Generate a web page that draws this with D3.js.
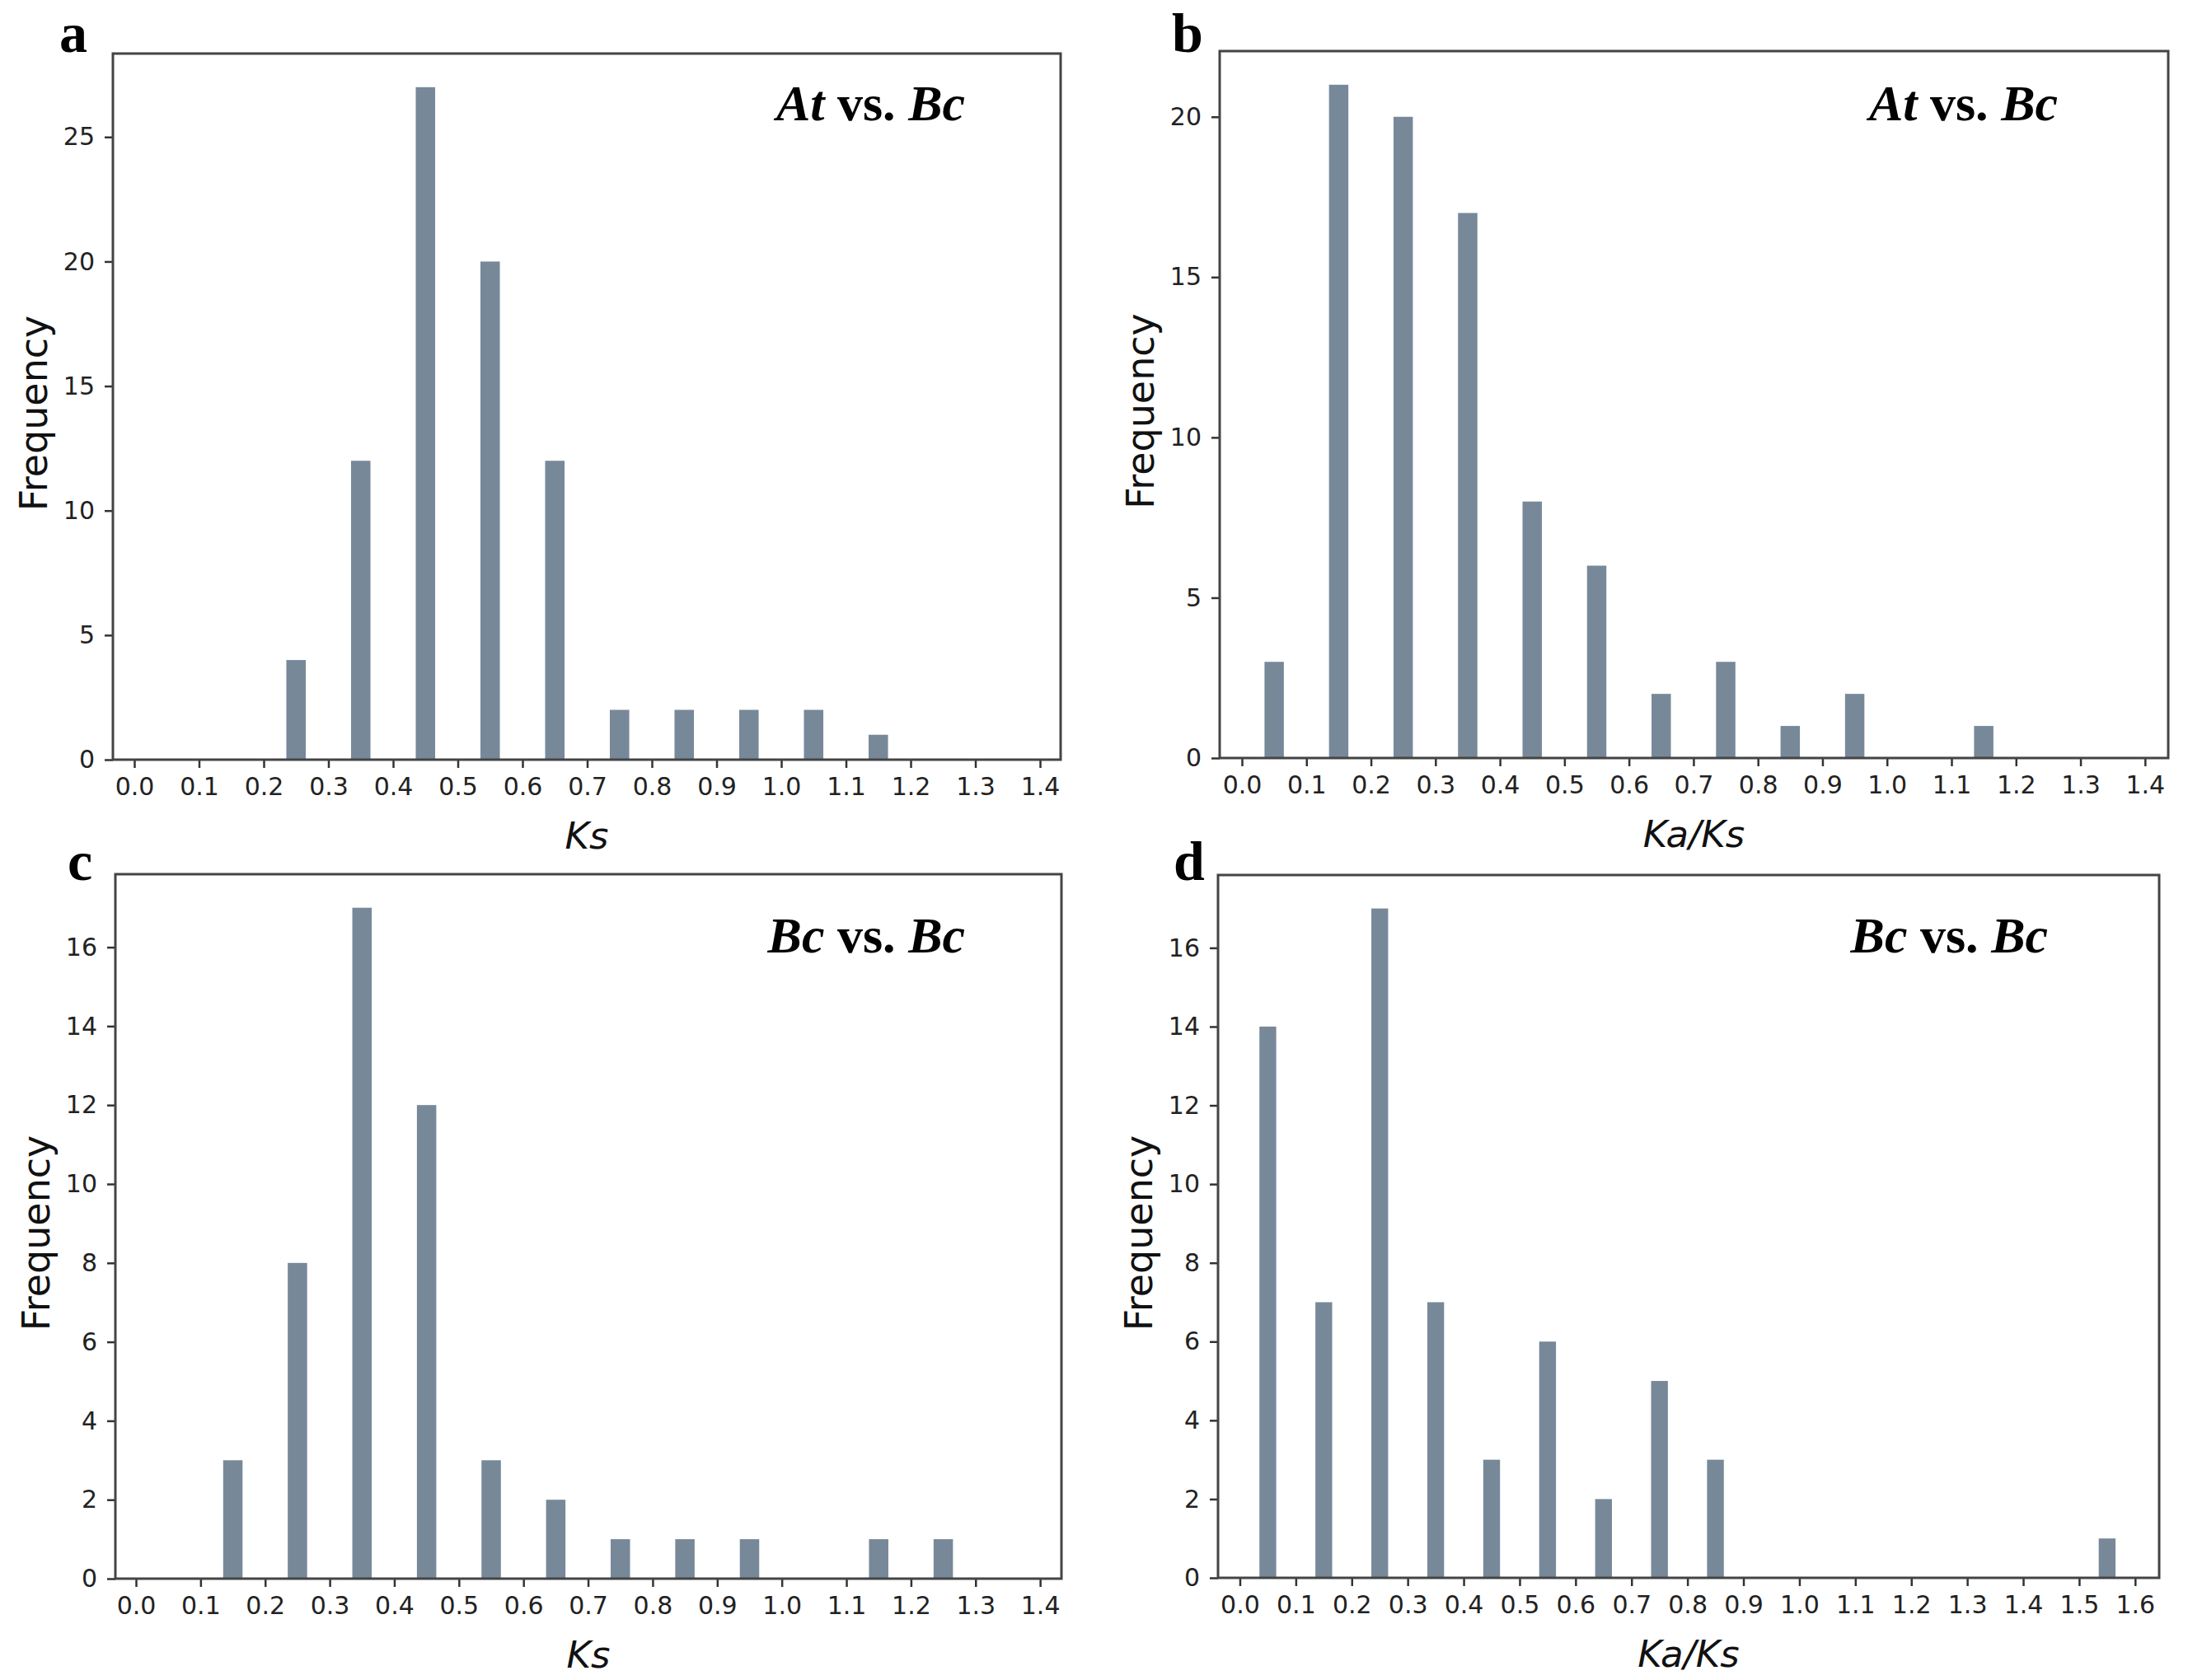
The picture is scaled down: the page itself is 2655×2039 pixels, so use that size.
<!DOCTYPE html>
<html>
<head>
<meta charset="utf-8">
<script src="https://cdn.jsdelivr.net/npm/d3@7"></script>
<style>
  html, body { margin: 0; padding: 0; background: #fff; }
  svg { display: block; }
</style>
</head>
<body>
<div id="chart"></div>
<script>
// bin centres (width 0.1) and counts
const binsA = [0.25, 0.35, 0.45, 0.55, 0.65, 0.75, 0.85, 0.95, 1.05, 1.15];
const countsA = [4, 12, 27, 20, 12, 2, 2, 2, 2, 1];

const binsB = [0.05, 0.15, 0.25, 0.35, 0.45, 0.55, 0.65, 0.75, 0.85, 0.95, 1.15];
const countsB = [3, 21, 20, 17, 8, 6, 2, 3, 1, 2, 1];

const binsC = [0.15, 0.25, 0.35, 0.45, 0.55, 0.65, 0.75, 0.85, 0.95, 1.15, 1.25];
const countsC = [3, 8, 17, 12, 3, 2, 1, 1, 1, 1, 1];

const binsD = [0.05, 0.15, 0.25, 0.35, 0.45, 0.55, 0.65, 0.75, 0.85, 1.55];
const countsD = [14, 7, 17, 7, 3, 6, 2, 5, 3, 1];

const xTicks14 = d3.range(0, 15).map(i => i / 10);
const xTicks16 = d3.range(0, 17).map(i => i / 10);
const yTicksA = [0, 5, 10, 15, 20, 25];
const yTicksB = [0, 5, 10, 15, 20];
const yTicksCD = [0, 2, 4, 6, 8, 10, 12, 14, 16];

const W = 2655, H = 2039;
const barColor = '#778899';
const barWidth = 0.03;

const svg = d3.select('#chart').append('svg')
    .attr('width', W)
    .attr('height', H);

const panels = [
    { letter: 'a', bins: binsA, counts: countsA, xTicks: xTicks14, yTicks: yTicksA,
      box: [137, 1287, 65, 922], xDom: [-0.0331, 1.4318], yMax: 28.35,
      xLabel: 'Ks', title: ['At', 'Bc'], titleX: 1171, titleY: 146, letterXY: [72, 63] },
    { letter: 'b', bins: binsB, counts: countsB, xTicks: xTicks14, yTicks: yTicksB,
      box: [1480, 2631, 62, 920], xDom: [-0.0345, 1.436], yMax: 22.05,
      xLabel: 'Ka/Ks', title: ['At', 'Bc'], titleX: 2497, titleY: 146, letterXY: [1422, 63] },
    { letter: 'c', bins: binsC, counts: countsC, xTicks: xTicks14, yTicks: yTicksCD,
      box: [140, 1288, 1061, 1916], xDom: [-0.0319, 1.433], yMax: 17.85,
      xLabel: 'Ks', title: ['Bc', 'Bc'], titleX: 1171, titleY: 1156, letterXY: [82, 1068] },
    { letter: 'd', bins: binsD, counts: countsD, xTicks: xTicks16, yTicks: yTicksCD,
      box: [1478, 2620, 1062, 1915], xDom: [-0.039, 1.643], yMax: 17.85,
      xLabel: 'Ka/Ks', title: ['Bc', 'Bc'], titleX: 2485, titleY: 1156, letterXY: [1424, 1068] }
];

panels.forEach(p => {
    const [l, r, t, b] = p.box;
    const x = d3.scaleLinear().domain(p.xDom).range([l, r]);
    const y = d3.scaleLinear().domain([0, p.yMax]).range([b, t]);
    const g = svg.append('g');

    // Bars
    g.append('g')
        .selectAll('rect')
        .data(p.bins.map((c, i) => ({ c, n: p.counts[i] })))
        .enter().append('rect')
        .attr('x', d => x(d.c - barWidth / 2))
        .attr('width', d => x(d.c + barWidth / 2) - x(d.c - barWidth / 2))
        .attr('y', d => y(d.n))
        .attr('height', d => y(0) - y(d.n))
        .attr('fill', barColor);

    // Axes
    const xAxis = d3.axisBottom(x)
        .tickValues(p.xTicks)
        .tickFormat(d3.format('.1f'))
        .tickSize(10)
        .tickPadding(12);
    const yAxis = d3.axisLeft(y)
        .tickValues(p.yTicks)
        .tickFormat(d3.format('d'))
        .tickSize(10)
        .tickPadding(12);

    const gx = g.append('g').attr('transform', `translate(0,${b})`).call(xAxis);
    const gy = g.append('g').attr('transform', `translate(${l},0)`).call(yAxis);
    [gx, gy].forEach(ax => {
        ax.select('.domain').remove();
        ax.selectAll('line').attr('stroke', '#333').attr('stroke-width', 2.5);
        ax.selectAll('text')
            .attr('fill', '#222')
            .style('font-family', '"DejaVu Sans", sans-serif')
            .style('font-size', '30px');
    });

    // Frame
    g.append('rect')
        .attr('x', l).attr('y', t)
        .attr('width', r - l).attr('height', b - t)
        .attr('fill', 'none')
        .attr('stroke', '#444')
        .attr('stroke-width', 3);

    // Axis labels
    g.append('text')
        .attr('x', (l + r) / 2)
        .attr('y', b + 108)
        .attr('text-anchor', 'middle')
        .style('font-family', '"DejaVu Sans", sans-serif')
        .style('font-style', 'italic')
        .style('font-size', '45px')
        .attr('fill', '#111')
        .text(p.xLabel);

    g.append('text')
        .attr('transform', `translate(${l - 80},${(t + b) / 2 + 8}) rotate(-90)`)
        .attr('text-anchor', 'middle')
        .style('font-family', '"DejaVu Sans", sans-serif')
        .style('font-size', '46px')
        .attr('fill', '#111')
        .text('Frequency');

    // Title inside panel
    const title = g.append('text')
        .attr('x', p.titleX)
        .attr('y', p.titleY)
        .attr('text-anchor', 'end')
        .style('font-family', '"Liberation Serif", "Times New Roman", serif')
        .style('font-weight', 'bold')
        .style('font-size', '62px')
        .attr('fill', '#000');
    title.append('tspan').style('font-style', 'italic').text(p.title[0]);
    title.append('tspan').text(' vs. ');
    title.append('tspan').style('font-style', 'italic').text(p.title[1]);

    // Panel letter
    g.append('text')
        .attr('x', p.letterXY[0])
        .attr('y', p.letterXY[1])
        .style('font-family', '"Liberation Serif", "Times New Roman", serif')
        .style('font-weight', 'bold')
        .style('font-size', '68px')
        .attr('fill', '#000')
        .text(p.letter);
});
</script>
</body>
</html>
